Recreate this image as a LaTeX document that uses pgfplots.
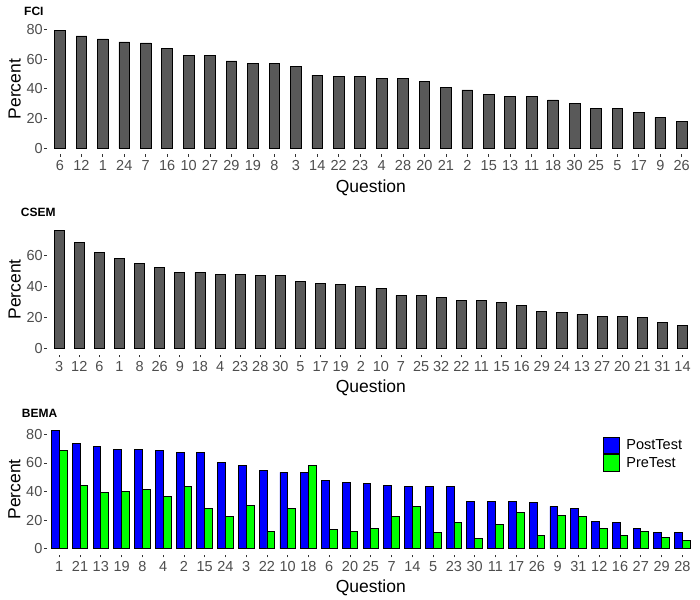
\documentclass[border=0pt]{standalone}
\usepackage{pgfplots}
\usepackage{pgfplotstable}
\pgfplotsset{compat=1.18}
\usepackage{fontspec}
\setmainfont{Liberation Sans}
\definecolor{barfill}{HTML}{595959}
\definecolor{ticklab}{HTML}{4D4D4D}
\definecolor{tickcol}{HTML}{333333}
\definecolor{postc}{HTML}{0000FF}
\definecolor{prec}{HTML}{00FF00}

\pgfplotstableread{
x q v
1 6 79.5
2 12 75.5
3 1 73.5
4 24 71.5
5 7 70.8
6 16 67.2
7 10 62.5
8 27 62.5
9 29 58.7
10 19 57.3
11 8 57.3
12 3 55.3
13 14 49.1
14 22 48.4
15 23 48.4
16 4 47.1
17 28 47.1
18 20 45.2
19 21 41.0
20 2 39.2
21 15 36.3
22 13 35.0
23 11 35.0
24 18 32.5
25 30 30.3
26 25 26.9
27 5 26.9
28 17 24.2
29 9 20.8
30 26 18.1
}\fci

\pgfplotstableread{
x q v
1 3 76.6
2 12 68.6
3 6 62.2
4 1 58.3
5 8 55.1
6 26 52.5
7 9 49.2
8 18 49.2
9 4 48.0
10 23 48.0
11 28 47.3
12 30 47.3
13 5 43.4
14 17 42.2
15 19 41.5
16 2 40.2
17 10 38.9
18 7 34.4
19 25 34.4
20 32 33.1
21 22 31.2
22 11 31.2
23 15 29.9
24 16 28.0
25 29 24.1
26 24 23.4
27 13 22.2
28 27 20.9
29 20 20.9
30 21 20.2
31 31 17.0
32 14 15.1
}\csem

\pgfplotstableread{
x q post pre
1 1 83.0 68.8
2 21 73.7 44.3
3 13 71.6 39.4
4 19 69.5 40.1
5 8 69.5 41.5
6 4 68.8 36.6
7 2 67.4 43.6
8 15 67.4 28.2
9 24 60.4 22.6
10 3 58.3 30.3
11 22 54.8 12.1
12 10 53.4 28.2
13 18 53.4 58.3
14 6 47.8 13.5
15 20 46.4 12.1
16 25 45.7 14.2
17 7 44.3 22.6
18 14 43.6 29.6
19 5 43.6 11.4
20 23 43.6 18.4
21 30 33.1 7.2
22 11 33.1 17.0
23 17 33.1 25.4
24 26 32.4 9.3
25 9 29.6 23.3
26 31 28.2 22.6
27 12 19.1 14.2
28 16 18.4 9.3
29 27 14.2 12.1
30 29 11.4 7.9
31 28 11.4 5.8
}\bema

\pgfplotsset{
  panel/.style={
    scale only axis, width=647.5bp,
    axis x line*=bottom, axis y line*=left,
    axis line style={draw=none},
    tick align=outside, major tick length=2.75bp,
    tick style={color=tickcol, line width=0.75bp},
    /pgf/number format/assume math mode=true,
    ticklabel style={font=\fontsize{14.5bp}{17bp}\selectfont, text=ticklab},
    yticklabel style={inner xsep=1.5bp},
    xticklabel style={inner ysep=3.5bp},
    label style={font=\fontsize{17.5bp}{20bp}\selectfont, text=black},
    every axis title shift=0pt,
    title style={font=\fontsize{12bp}{14bp}\selectfont\bfseries, text=black, inner sep=0pt},
    xlabel={Question}, ylabel={Percent},
    xlabel style={at={(axis description cs:0.5,-0.292)}, anchor=base, inner sep=0pt},
    ylabel style={at={(axis description cs:-0.0408,0.5)}, anchor=base, inner sep=0pt},
  },
  gbar/.style={ybar, bar width=0.5, bar shift=0, fill=barfill, draw=black, line width=0.75bp},
}

\begin{document}
\begin{tikzpicture}
\useasboundingbox (0,0) rectangle (700bp,600bp);

% FCI
\begin{axis}[panel, at={(47.1bp,445.8bp)}, anchor=south west,
  height=130.1bp, xmin=0.4, xmax=30.6, ymin=-3.98, ymax=83.48,
  ytick={0,20,40,60,80}, xtick={1,...,30},
  xticklabels from table={\fci}{q},
  title={FCI}, title style={at={(axis description cs:-0.0357,1.0669)}, anchor=base west}]
\addplot[gbar] table[x=x, y=v] {\fci};
\end{axis}

% CSEM
\begin{axis}[panel, at={(47.1bp,245.4bp)}, anchor=south west,
  height=130.5bp, xmin=0.4, xmax=32.6, ymin=-3.83, ymax=80.43,
  ytick={0,20,40,60}, xtick={1,...,32},
  xticklabels from table={\csem}{q},
  title={CSEM}, title style={at={(axis description cs:-0.0408,1.0544)}, anchor=base west}]
\addplot[gbar] table[x=x, y=v] {\csem};
\end{axis}

% BEMA
\begin{axis}[panel, at={(46.8bp,45.4bp)}, anchor=south west,
  width=648bp, height=130.4bp, xmin=0.4, xmax=31.6, ymin=-4.15, ymax=87.15,
  ytick={0,20,40,60,80}, xtick={1,...,31},
  xticklabels from table={\bema}{q},
  title={BEMA}, title style={at={(axis description cs:-0.0387,1.0552)}, anchor=base west},
  legend style={at={(0.8586,0.902)}, anchor=north west, draw=none, fill=none,
    inner sep=0pt, outer sep=0pt, row sep=0pt, column sep=6.5bp,
    font=\fontsize{14.5bp}{17bp}\selectfont,
    nodes={inner sep=0pt, minimum height=16.5bp}},
  legend cell align=left]
\addplot[ybar, bar width=0.375, bar shift=-0.1875, fill=postc, draw=black, line width=0.75bp,
  legend image code/.code={\draw[draw=black, fill=postc, line width=0.75bp] (0bp,-8.25bp) rectangle (16bp,8.25bp);}]
  table[x=x, y=post] {\bema};
\addlegendentry{PostTest}
\addplot[ybar, bar width=0.375, bar shift=0.1875, fill=prec, draw=black, line width=0.75bp,
  legend image code/.code={\draw[draw=black, fill=prec, line width=0.75bp] (0bp,-8.25bp) rectangle (16bp,8.25bp);}]
  table[x=x, y=pre] {\bema};
\addlegendentry{PreTest}
\end{axis}
\end{tikzpicture}
\end{document}
